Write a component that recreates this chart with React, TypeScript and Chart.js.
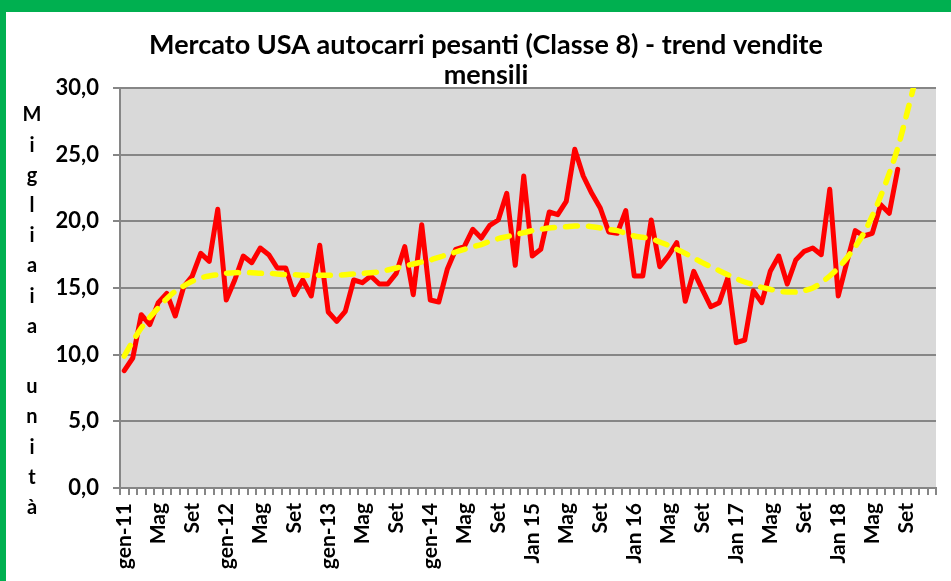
import React, { useEffect, useRef } from "react";
import { Chart, registerables } from "chart.js";

Chart.register(...registerables);

const MONTHS = ["gen", "feb", "mar", "apr", "mag", "giu", "lug", "ago", "set", "ott", "nov", "dic"];
const YEARS = ["11", "12", "13", "14", "15", "16", "17", "18"];
const categories: string[] = YEARS.flatMap((y) => MONTHS.map((m) => `${m}-${y}`));

const tickLabels = [
  "gen-11", "Mag", "Set", "gen-12", "Mag", "Set", "gen-13", "Mag", "Set",
  "gen-14", "Mag", "Set", "Jan 15", "Mag", "Set", "Jan 16", "Mag", "Set",
  "Jan 17", "Mag", "Set", "Jan 18", "Mag", "Set",
];

const sales = [
  8.8, 9.75, 13.0, 12.25, 13.9, 14.6, 12.9, 15.1, 15.9, 17.6, 17.0, 20.9,
  14.1, 15.6, 17.4, 16.9, 18.0, 17.5, 16.5, 16.5, 14.5, 15.6, 14.4, 18.2,
  13.2, 12.5, 13.25, 15.6, 15.4, 15.9, 15.3, 15.3, 16.1, 18.1, 14.5, 19.75,
  14.1, 13.95, 16.4, 17.9, 18.1, 19.4, 18.75, 19.7, 20.1, 22.1, 16.7, 23.4,
  17.4, 17.9, 20.7, 20.5, 21.5, 25.4, 23.4, 22.1, 21.0, 19.2, 19.1, 20.8,
  15.9, 15.9, 20.1, 16.6, 17.4, 18.4, 14.0, 16.25, 14.9, 13.6, 13.9, 15.75,
  10.9, 11.1, 14.8, 13.9, 16.25, 17.4, 15.3, 17.1, 17.75, 18.0, 17.5, 22.4,
  14.4, 16.9, 19.3, 18.9, 19.1, 21.25, 20.6, 23.9,
];

const trend = [
  9.9, 11.0, 12.0, 12.8, 13.5, 14.2, 14.75, 15.15, 15.5, 15.75, 15.9, 16.0,
  16.1, 16.15, 16.15, 16.15, 16.1, 16.1, 16.05, 16.0, 16.0, 15.95, 15.95, 15.95,
  15.95, 15.95, 16.0, 16.05, 16.1, 16.15, 16.2, 16.35, 16.5, 16.65, 16.8, 16.95,
  17.1, 17.3, 17.5, 17.7, 17.9, 18.1, 18.25, 18.5, 18.7, 18.85, 19.0, 19.15,
  19.3, 19.4, 19.5, 19.55, 19.6, 19.65, 19.65, 19.6, 19.5, 19.4, 19.3, 19.1,
  18.9, 18.8, 18.7, 18.45, 18.2, 17.9, 17.6, 17.25, 16.9, 16.6, 16.3, 16.0,
  15.7, 15.45, 15.25, 15.05, 14.9, 14.75, 14.7, 14.7, 14.8, 15.0, 15.4, 15.9,
  16.5, 17.25, 18.1, 19.1, 20.4, 21.9, 23.6, 25.5, 27.9, 30.4,
];

const titleLines = ["Mercato USA autocarri pesanti (Classe 8) - trend vendite", "mensili"];
const yAxisLetters = ["M", "i", "g", "l", "i", "a", "i", "a", "", "u", "n", "i", "t", "à"];

const FONT = "Lato, 'Noto Sans', sans-serif";

const plotBg = {
  id: "plotBg",
  beforeDraw(chart: any) {
    const { ctx, chartArea } = chart;
    ctx.save();
    ctx.fillStyle = "#d9d9d9";
    ctx.fillRect(chartArea.left, chartArea.top, chartArea.right - chartArea.left, chartArea.bottom - chartArea.top);
    ctx.restore();
  },
};

const stackedYTitle = {
  id: "stackedYTitle",
  afterDraw(chart: any) {
    const { ctx, chartArea } = chart;
    ctx.save();
    ctx.fillStyle = "#000";
    ctx.font = `bold 20px ${FONT}`;
    ctx.textAlign = "center";
    ctx.textBaseline = "middle";
    const step = 30.2;
    yAxisLetters.forEach((ch, i) => {
      ctx.fillText(ch, 26, chartArea.top + 27 + i * step);
    });
    ctx.restore();
  },
};

export default function App() {
  const ref = useRef<HTMLCanvasElement>(null);
  useEffect(() => {
    if (!ref.current) return;
    const chart = new Chart(ref.current, {
      type: "line",
      data: {
        labels: categories,
        datasets: [
          {
            label: "Vendite",
            data: sales,
            borderColor: "#ff0000",
            backgroundColor: "#ff0000",
            borderWidth: 5,
            pointRadius: 0,
            borderJoinStyle: "round",
            borderCapStyle: "round",
            tension: 0,
            order: 2,
          },
          {
            label: "Trend",
            data: trend,
            borderColor: "#ffff00",
            backgroundColor: "#ffff00",
            borderWidth: 5.5,
            borderDash: [12, 11],
            borderCapStyle: "round",
            pointRadius: 0,
            tension: 0.3,
            clip: 0 as any,
            order: 1,
          },
        ],
      },
      options: {
        responsive: false,
        animation: false,
        devicePixelRatio: 1,
        layout: { padding: { left: 30, right: 15, top: 0, bottom: 0 } },
        plugins: {
          legend: { display: false },
          tooltip: { enabled: false },
          title: {
            display: true,
            text: titleLines,
            color: "#000",
            font: { family: FONT, size: 27, weight: "bold", lineHeight: 30 / 27 },
            padding: { top: 18, bottom: -2 },
          },
        },
        scales: {
          x: {
            type: "category",
            offset: true,
            afterFit(scale: any) {
              scale.height = 93;
              scale.paddingRight = 0;
              scale.paddingLeft = 0;
            },
            grid: {
              offset: true,
              drawOnChartArea: false,
              drawTicks: true,
              tickLength: 7,
              color: "#868686",
              lineWidth: 2,
            },
            border: { display: true, color: "#868686", width: 2 },
            ticks: {
              autoSkip: false,
              maxRotation: 90,
              minRotation: 90,
              padding: 8,
              color: "#000",
              font: { family: FONT, size: 21, weight: "bold" },
              callback: (_v: any, i: number) => (i % 4 === 0 ? tickLabels[i / 4] : ""),
            },
          },
          y: {
            min: 0,
            max: 30,
            afterFit(scale: any) {
              scale.width = 84;
            },
            grid: {
              color: "#868686",
              lineWidth: 2,
              drawTicks: true,
              tickLength: 7,
            },
            border: { display: true, color: "#868686", width: 2 },
            ticks: {
              stepSize: 5,
              padding: 14,
              color: "#000",
              font: { family: FONT, size: 22, weight: "bold" },
              callback: (v: any) => Number(v).toFixed(1).replace(".", ","),
            },
          },
        },
      },
      plugins: [plotBg, stackedYTitle],
    });
    return () => chart.destroy();
  }, []);

  return (
    <div style={{ position: "absolute", left: 0, top: 0, width: 951, height: 581, background: "#00b050", overflow: "hidden" }}>
      <div style={{ position: "absolute", left: 6, top: 12, width: 945, height: 569, background: "#ffffff" }}>
        <canvas ref={ref} width={945} height={569} style={{ display: "block" }} />
      </div>
    </div>
  );
}
